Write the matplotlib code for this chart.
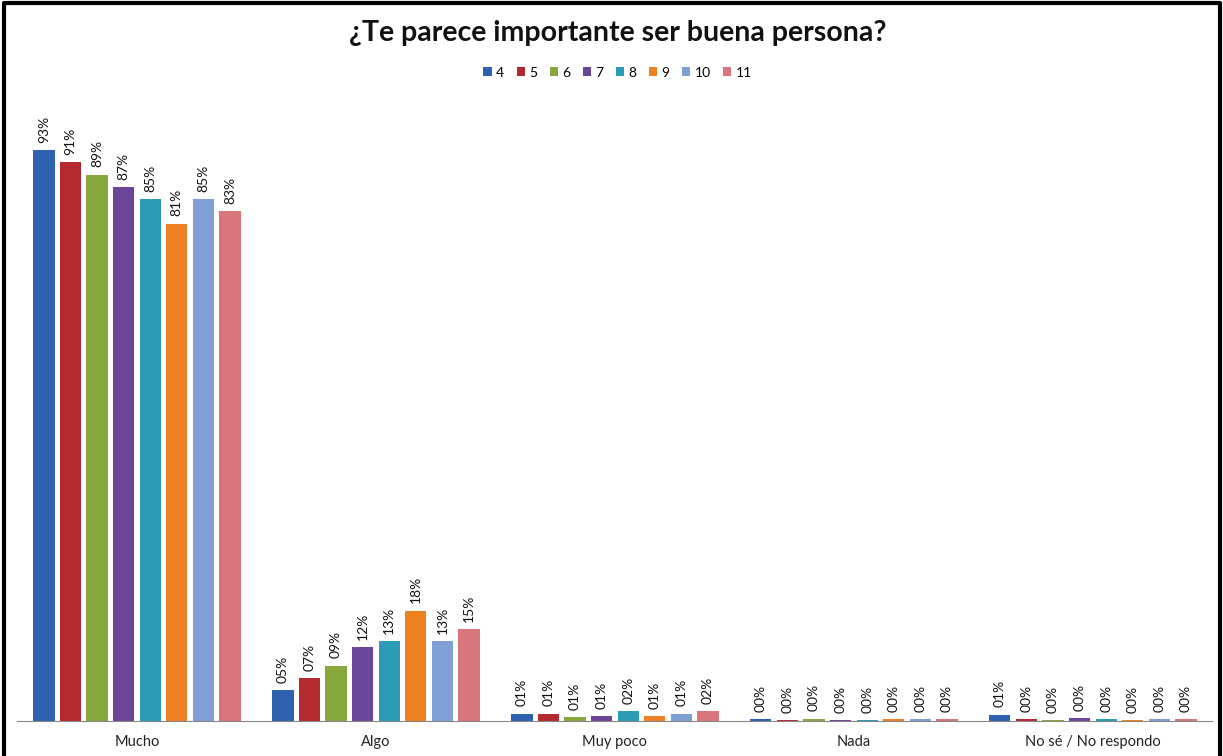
import numpy as np
import matplotlib.pyplot as plt
from matplotlib.lines import Line2D

# Data
categories = ['Mucho', 'Algo', 'Muy poco', 'Nada', 'No sé / No respondo']
grades = ['4', '5', '6', '7', '8', '9', '10', '11']
colors = ['#2F62AE', '#B52A30', '#86A83C', '#6B4598', '#2C9BB6', '#EF7F23', '#809FD6', '#D8767C']

# percentage per grade, in category order
g4 = [93, 5, 1.2, 0.3, 1.0]
g5 = [91, 7, 1.2, 0.1, 0.3]
g6 = [89, 9, 0.6, 0.4, 0.1]
g7 = [87, 12, 0.8, 0.1, 0.5]
g8 = [85, 13, 1.6, 0.1, 0.3]
g9 = [81, 18, 0.8, 0.3, 0.1]
g10 = [85, 13, 1.2, 0.3, 0.3]
g11 = [83, 15, 1.6, 0.3, 0.3]
series = [g4, g5, g6, g7, g8, g9, g10, g11]

plt.rcParams['font.family'] = ['Lato', 'DejaVu Sans']

fig = plt.figure(figsize=(12.23, 7.56), dpi=100)
ax = fig.add_axes([0.0143, 0.0463, 0.977, 0.812])

x = np.arange(len(categories))
group = 0.89
slot = group / len(grades)
for i, (vals, c) in enumerate(zip(series, colors)):
    pos = x - group / 2 + slot * (i + 0.5)
    ax.bar(pos, vals, width=slot * 0.8, color=c, label=grades[i], zorder=2)
    for px, v in zip(pos, vals):
        ax.text(px, v + 1.2, f'{v:02.0f}%', rotation=90, ha='center', va='bottom',
                fontsize=10, color='#111111')

ax.set_xlim(-0.5, 4.5)
ax.set_ylim(0, 100)
ax.set_xticks(x)
ax.set_xticklabels(categories, fontsize=10.5, color='#222222')
ax.tick_params(axis='x', length=0, pad=10)
ax.set_yticks([])
for s in ['top', 'right', 'left']:
    ax.spines[s].set_visible(False)
ax.spines['bottom'].set_color('#888888')

fig.text(0.505, 0.957, '¿Te parece importante ser buena persona?', ha='center', va='center',
         fontsize=20.5, fontweight='bold', color='#111111')
fig.legend(loc='center', bbox_to_anchor=(0.505, 0.904), ncol=8, frameon=False,
           fontsize=10, handlelength=0.6, handleheight=0.6, handletextpad=0.3,
           columnspacing=0.9)

# black frame (no bottom edge)
fig.add_artist(Line2D([0.0035, 0.0035, 0.9975, 0.9975], [0.0, 0.996, 0.996, 0.0],
                      transform=fig.transFigure, color='black', lw=3))

fig.savefig('out.png', dpi=100)
